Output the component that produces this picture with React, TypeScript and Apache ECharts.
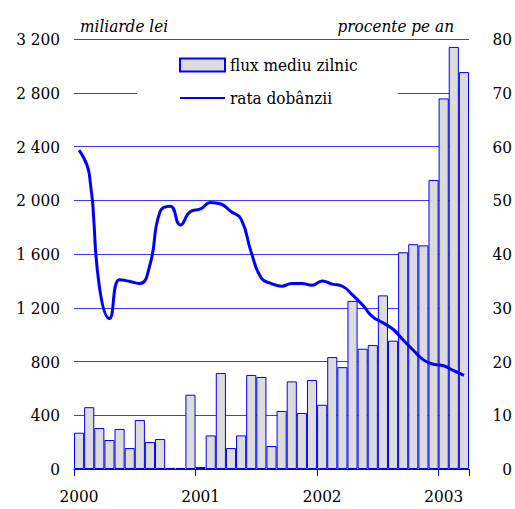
import React, { useEffect, useRef } from 'react';
import * as echarts from 'echarts';

const months = [
  '2000-01', '2000-02', '2000-03', '2000-04', '2000-05', '2000-06', '2000-07', '2000-08', '2000-09', '2000-10', '2000-11', '2000-12',
  '2001-01', '2001-02', '2001-03', '2001-04', '2001-05', '2001-06', '2001-07', '2001-08', '2001-09', '2001-10', '2001-11', '2001-12',
  '2002-01', '2002-02', '2002-03', '2002-04', '2002-05', '2002-06', '2002-07', '2002-08', '2002-09', '2002-10', '2002-11', '2002-12',
  '2003-01', '2003-02', '2003-03',
];

// flux mediu zilnic (miliarde lei)
const flux = [
  270, 460, 305, 216, 298, 156, 365, 201, 223, 8, 8, 553,
  15, 250, 714, 156, 250, 700, 685, 171, 432, 652, 417, 662,
  478, 833, 758, 1251, 895, 922, 1292, 955, 1613, 1673, 1664, 2151,
  2758, 3141, 2954,
];

// rata dobânzii (procente pe an)
const rate = [
  59.3, 55.0, 34.0, 28.0, 35.2, 34.9, 34.5, 38.0, 47.9, 48.9, 45.4, 47.9,
  48.4, 49.6, 49.3, 47.9, 46.5, 40.3, 35.5, 34.5, 34.0, 34.5, 34.5, 34.2,
  35.0, 34.4, 34.0, 32.4, 30.5, 28.3, 27.2, 26.0, 24.0, 22.1, 20.3, 19.5,
  19.2, 18.3, 17.4,
];

const seriesNames = ['flux mediu zilnic', 'rata dobânzii'];
const axisNames = ['miliarde lei', 'procente pe an'];

const FONT = 'DejaVu Serif Condensed';
const FS = 17;
const BLUE = '#0000ff';
const GRID_BLUE = '#3a3aff';

function fmtThousands(v: number): string {
  if (v >= 1000) {
    const th = Math.floor(v / 1000);
    const rest = String(v % 1000).padStart(3, '0');
    return `${th} ${rest}`;
  }
  return String(v);
}

export default function App() {
  const ref = useRef<HTMLDivElement>(null);
  useEffect(() => {
    if (!ref.current) return;
    const chart = echarts.init(ref.current, undefined, { renderer: 'svg' });
    const yearTick = (index: number) => index % 12 === 0;
    chart.setOption({
      animation: false,
      backgroundColor: '#ffffff',
      textStyle: { fontFamily: FONT },
      grid: { left: 74, right: 45, top: 39, bottom: 40, containLabel: false },
      legend: {
        left: 137,
        top: 45,
        orient: 'vertical',
        backgroundColor: '#ffffff',
        padding: [10, 40, 10, 42],
        itemWidth: 45,
        itemHeight: 13,
        itemGap: 13,
        textStyle: { fontFamily: FONT, fontSize: FS, color: '#000', lineHeight: 20 },
        data: [
          { name: seriesNames[0], icon: 'rect' },
          { name: seriesNames[1], itemStyle: { opacity: 0 } },
        ],
      },
      xAxis: {
        type: 'category',
        data: months,
        boundaryGap: true,
        axisLine: { show: true, lineStyle: { color: BLUE, width: 1 } },
        axisTick: { show: true, interval: yearTick, length: 7, lineStyle: { color: BLUE } },
        axisLabel: {
          interval: yearTick,
          formatter: (v: string) => v.slice(0, 4),
          margin: 18,
          fontFamily: FONT,
          fontSize: FS,
          color: '#000',
        },
        splitLine: { show: false },
      },
      yAxis: [
        {
          type: 'value',
          min: 0,
          max: 3200,
          interval: 400,
          name: axisNames[0],
          nameLocation: 'end',
          nameGap: 5,
          nameTextStyle: {
            fontFamily: FONT,
            fontSize: FS,
            fontStyle: 'italic',
            color: '#000',
            align: 'left',
            padding: [0, 0, 0, 6],
          },
          axisLine: { show: false },
          axisTick: { show: false },
          axisLabel: {
            formatter: (v: number) => fmtThousands(v),
            margin: 14,
            fontFamily: FONT,
            fontSize: FS,
            color: '#000',
          },
          splitLine: { show: true, lineStyle: { color: GRID_BLUE, width: 1 } },
        },
        {
          type: 'value',
          min: 0,
          max: 80,
          interval: 10,
          name: axisNames[1],
          nameLocation: 'end',
          nameGap: 5,
          nameTextStyle: {
            fontFamily: FONT,
            fontSize: FS,
            fontStyle: 'italic',
            color: '#000',
            align: 'right',
            padding: [0, 15, 0, 0],
          },
          axisLine: { show: false },
          axisTick: { show: false },
          axisLabel: {
            margin: 43,
            align: 'right',
            fontFamily: FONT,
            fontSize: FS,
            color: '#000',
          },
          splitLine: { show: false },
        },
      ],
      series: [
        {
          name: seriesNames[0],
          type: 'bar',
          data: flux,
          yAxisIndex: 0,
          barCategoryGap: '0%',
          itemStyle: { color: '#dcdcdc', borderColor: BLUE, borderWidth: 1 },
        },
        {
          name: seriesNames[1],
          type: 'line',
          data: rate,
          yAxisIndex: 1,
          smooth: 0.5,
          symbol: 'none',
          lineStyle: { color: BLUE, width: 3 },
          itemStyle: { color: BLUE },
          z: 5,
        },
      ],
    });
    return () => chart.dispose();
  }, []);
  return <div ref={ref} style={{ position: 'fixed', left: 0, top: 0, width: 515, height: 509 }} />;
}
